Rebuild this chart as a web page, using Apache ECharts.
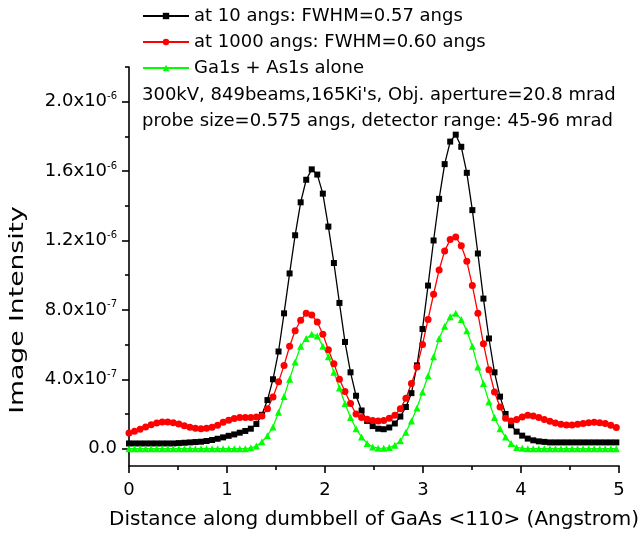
<!DOCTYPE html>
<html>
<head>
<meta charset="utf-8">
<script src="https://cdn.jsdelivr.net/npm/echarts@6.0.0/dist/echarts.min.js"></script>
<style>
  html,body{margin:0;padding:0;background:#fff;}
  #chart{width:642px;height:542px;}
</style>
</head>
<body>
<div id="chart"></div>
<script>
  // x positions (Angstrom), sampled every 0.0565
  var xs = [0, 0.0565, 0.113, 0.1695, 0.226, 0.2825, 0.339, 0.3955, 0.452, 0.5085,
    0.565, 0.6215, 0.678, 0.7345, 0.791, 0.8475, 0.904, 0.9605, 1.017, 1.0735,
    1.13, 1.1865, 1.243, 1.2995, 1.356, 1.4125, 1.469, 1.5255, 1.582, 1.6385,
    1.695, 1.7515, 1.808, 1.8645, 1.921, 1.9775, 2.034, 2.0905, 2.147, 2.2035,
    2.26, 2.3165, 2.373, 2.4295, 2.486, 2.5425, 2.599, 2.6555, 2.712, 2.7685,
    2.825, 2.8815, 2.938, 2.9945, 3.051, 3.1075, 3.164, 3.2205, 3.277, 3.3335,
    3.39, 3.4465, 3.503, 3.5595, 3.616, 3.6725, 3.729, 3.7855, 3.842, 3.8985,
    3.955, 4.0115, 4.068, 4.1245, 4.181, 4.2375, 4.294, 4.3505, 4.407, 4.4635,
    4.52, 4.5765, 4.633, 4.6895, 4.746, 4.8025, 4.859, 4.9155, 4.972];

  // intensities, in units of 1e-7
  var at10 = [0.30, 0.30, 0.30, 0.30, 0.30, 0.30, 0.30, 0.30, 0.30, 0.32,
    0.34, 0.36, 0.38, 0.40, 0.44, 0.50, 0.57, 0.65, 0.74, 0.82,
    0.92, 1.02, 1.15, 1.42, 1.95, 2.8, 4.0, 5.6, 7.8, 10.1,
    12.3, 14.2, 15.5, 16.1, 15.8, 14.7, 12.8, 10.7, 8.4, 6.15,
    4.4, 3.05, 2.2, 1.6, 1.3, 1.15, 1.12, 1.22, 1.45, 1.85,
    2.4, 3.2, 4.8, 6.9, 9.4, 12.0, 14.4, 16.4, 17.7, 18.1,
    17.4, 15.9, 13.75, 11.25, 8.65, 6.35, 4.4, 3.0, 2.0, 1.35,
    0.98, 0.75, 0.58, 0.48, 0.42, 0.39, 0.36, 0.36, 0.36, 0.36,
    0.36, 0.36, 0.36, 0.36, 0.36, 0.36, 0.36, 0.36, 0.36];

  var at1000 = [0.9, 1.0, 1.12, 1.25, 1.38, 1.48, 1.53, 1.54, 1.5, 1.42,
    1.32, 1.23, 1.17, 1.15, 1.17, 1.24, 1.35, 1.52, 1.64, 1.74,
    1.79, 1.8, 1.8, 1.82, 1.88, 2.3, 2.98, 3.85, 4.8, 5.9,
    6.8, 7.4, 7.8, 7.7, 7.3, 6.6, 5.7, 4.9, 4.0, 3.3,
    2.6, 2.0, 1.8, 1.7, 1.63, 1.6, 1.62, 1.75, 1.92, 2.3,
    2.9, 3.75, 4.7, 6.0, 7.45, 8.9, 10.3, 11.4, 12.05, 12.2,
    11.7, 10.8, 9.4, 7.8, 6.05, 4.55, 3.27, 2.4, 1.75, 1.6,
    1.68, 1.82, 1.92, 1.88, 1.8, 1.68, 1.58, 1.48, 1.4, 1.36,
    1.36, 1.4, 1.45, 1.5, 1.52, 1.5, 1.45, 1.35, 1.22];

  var ga1s = [0, 0, 0, 0, 0, 0, 0, 0, 0, 0,
    0, 0, 0, 0, 0, 0, 0, 0, 0, 0,
    0, 0, 0.05, 0.15, 0.4, 0.75, 1.25, 2.1, 3.0, 4.0,
    5.0, 5.9, 6.35, 6.6, 6.5, 5.9, 5.3, 4.4, 3.5, 2.6,
    1.8, 1.15, 0.67, 0.3, 0.1, 0.03, 0.02, 0.06, 0.19, 0.45,
    0.95, 1.6, 2.35, 3.27, 4.2, 5.3, 6.35, 7.06, 7.6, 7.8,
    7.45, 6.8, 5.9, 4.7, 3.75, 2.7, 1.8, 1.15, 0.67, 0.29,
    0.07, 0.02, 0, 0, 0, 0, 0, 0, 0, 0,
    0, 0, 0, 0, 0, 0, 0, 0, 0];

  var seriesNames = ['at 10 angs: FWHM=0.57 angs', 'at 1000 angs: FWHM=0.60 angs', 'Ga1s + As1s alone'];
  var noteLines = ["300kV, 849beams,165Ki's, Obj. aperture=20.8 mrad",
    'probe size=0.575 angs, detector range: 45-96 mrad'];

  var yMajor = [0, 4, 8, 12, 16, 20];
  var yMinor = [2, 6, 10, 14, 18, 22];
  var yTickBase = ['0.0', '4.0x10', '8.0x10', '1.2x10', '1.6x10', '2.0x10'];
  var yTickExp = ['', '-7', '-7', '-6', '-6', '-6'];

  var FONT = '"DejaVu Sans", sans-serif';

  function pairs(ys){
    return xs.map(function(x, i){ return [x, ys[i]]; });
  }
  function lineSeries(name, ys, color, symbol, size){
    return {
      name: name, type: 'line', data: pairs(ys),
      symbol: symbol, symbolSize: size, showAllSymbol: true,
      lineStyle: {color: color, width: 1.3},
      itemStyle: {color: color},
      emphasis: {disabled: true}
    };
  }

  var myChart = echarts.init(document.getElementById('chart'));
  var option = {
    animation: false,
    backgroundColor: '#fff',
    grid: {left: 129, top: 67, width: 494, height: 399, containLabel: false},
    legend: {
      orient: 'vertical', left: 142, top: 6, padding: 0,
      itemWidth: 46, itemHeight: 8, itemGap: 6,
      textStyle: {fontFamily: FONT, fontSize: 18, color: '#000', lineHeight: 20},
      data: seriesNames
    },
    xAxis: {
      type: 'value', min: 0, max: 5, interval: 1,
      name: 'Distance along dumbbell of GaAs <110> (Angstrom)',
      nameLocation: 'middle', nameGap: 44,
      nameTextStyle: {fontFamily: FONT, fontSize: 20, color: '#000'},
      axisLine: {onZero: false, lineStyle: {color: '#000', width: 1.6}},
      axisTick: {length: 7, lineStyle: {color: '#000', width: 1.6}},
      minorTick: {show: true, splitNumber: 2, length: 4, lineStyle: {color: '#000', width: 1.6}},
      axisLabel: {fontFamily: FONT, fontSize: 18, color: '#000', margin: 15},
      splitLine: {show: false}
    },
    yAxis: [{
      type: 'value', min: -1, max: 22,
      axisLine: {show: true, onZero: false, lineStyle: {color: '#000', width: 1.6}},
      axisTick: {show: true, length: 7, customValues: yMajor, lineStyle: {color: '#000', width: 1.6}},
      axisLabel: {
        customValues: yMajor, margin: 12,
        formatter: function(v){
          var i = yMajor.indexOf(Math.round(v));
          if (i < 0) return '';
          return '{b|' + yTickBase[i] + '}' + (yTickExp[i] ? '{s|' + yTickExp[i] + '}' : '');
        },
        rich: {
          b: {fontFamily: FONT, fontSize: 18, color: '#000', lineHeight: 20},
          s: {fontFamily: FONT, fontSize: 10, color: '#000', lineHeight: 10, verticalAlign: 'top'}
        }
      },
      splitLine: {show: false}
    }, {
      type: 'value', min: -1, max: 22, position: 'left',
      axisLine: {show: false, onZero: false},
      axisTick: {show: true, length: 4, customValues: yMinor, lineStyle: {color: '#000', width: 1.6}},
      axisLabel: {show: false},
      splitLine: {show: false}
    }],
    graphic: [
      {type: 'text', left: 142, top: 86, style: {text: noteLines[0], font: '18px ' + FONT, fill: '#000'}},
      {type: 'text', left: 142, top: 112, style: {text: noteLines[1], font: '18px ' + FONT, fill: '#000'}},
      {type: 'text', x: 18, y: 310, rotation: Math.PI / 2, scaleX: 1.4,
        style: {text: 'Image Intensity', font: '19px ' + FONT, fill: '#000', align: 'center', verticalAlign: 'middle'}}
    ],
    series: [
      lineSeries(seriesNames[0], at10, '#000000', 'rect', 6),
      lineSeries(seriesNames[1], at1000, '#ff0000', 'circle', 7),
      lineSeries(seriesNames[2], ga1s, '#00ff00', 'triangle', 7)
    ]
  };
  myChart.setOption(option);
</script>
</body>
</html>
